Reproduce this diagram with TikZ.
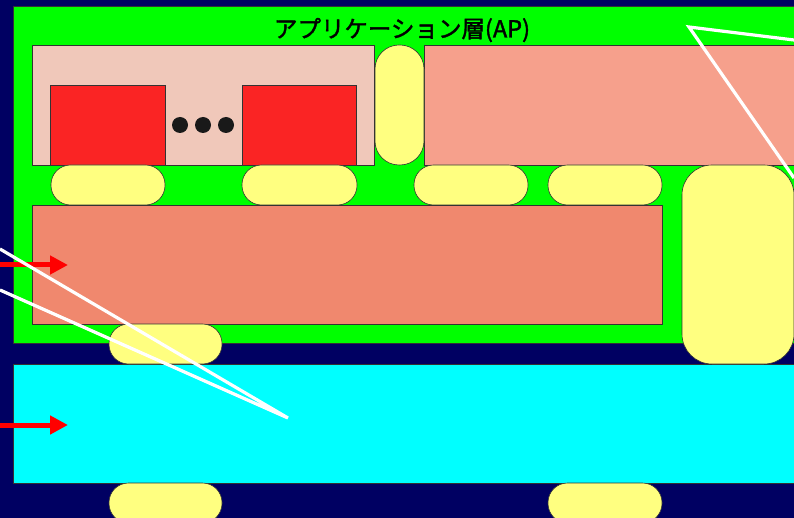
\documentclass[tikz,border=0pt]{standalone}
\usepackage{fontspec}
\newfontfamily\jpfont[FakeBold=1.6]{Noto Sans CJK JP}
\usetikzlibrary{arrows.meta}
\definecolor{navy}{RGB}{0,0,98}
\definecolor{lgreen}{RGB}{0,255,0}
\definecolor{lpink}{RGB}{240,200,186}
\definecolor{dred}{RGB}{250,36,36}
\definecolor{chk}{RGB}{246,160,140}
\definecolor{salm}{RGB}{240,136,110}
\definecolor{lyel}{RGB}{255,255,128}
\definecolor{lcyan}{RGB}{0,255,255}
\tikzset{
  box/.style={rectangle, draw=black!80, line width=0.6pt, inner sep=0pt, outer sep=0pt},
  pill/.style={box, fill=lyel, minimum width=114pt, minimum height=40pt, rounded corners=19.5pt},
  redarrow/.style={draw=red, line width=5pt, -{Triangle[length=18pt,width=18pt]}},
  callout/.style={draw=white, line width=3.2pt, line join=miter},
  dot/.style={circle, fill=black!90, minimum size=16pt, inner sep=0pt}
}
\begin{document}
\begin{tikzpicture}[x=1pt,y=-1pt]
\useasboundingbox (0,0) rectangle (794,518);
\begin{scope}
\clip (0,0) rectangle (794,518);
\fill[navy] (0,0) rectangle (794,518);
\node[box, fill=lgreen, minimum width=787pt, minimum height=337pt] (ap) at (406.5,174.5) {};
\node[box, fill=lcyan, minimum width=787pt, minimum height=119pt] (low) at (406.5,423.5) {};
\node[box, fill=lpink, minimum width=342pt, minimum height=120pt] (pk) at (203,105) {};
\node[box, fill=dred, minimum width=115pt, minimum height=80pt] (r1) at (107.5,125) {};
\node[box, fill=dred, minimum width=114pt, minimum height=80pt] (r2) at (299,125) {};
\node[dot] (d1) at (180,125) {};
\node[dot] (d2) at (203,125) {};
\node[dot] (d3) at (226,125) {};
\node[box, fill=chk, minimum width=376pt, minimum height=120pt] (ck) at (612,105) {};
\node[box, fill=lyel, minimum width=49pt, minimum height=120pt, rounded corners=24pt] (tp) at (399.5,105) {};
\node[box, fill=salm, minimum width=630pt, minimum height=119pt] (sm) at (347,264.5) {};
\node[pill] (p1) at (108,185) {};
\node[pill, minimum width=115pt] (p2) at (299.5,185) {};
\node[pill] (p3) at (471,185) {};
\node[pill] (p4) at (605,185) {};
\node[box, fill=lyel, minimum width=112pt, minimum height=199pt, rounded corners=30pt] (big) at (738,264.5) {};
\node[pill, minimum width=113pt] (p5) at (165.5,344) {};
\node[pill, minimum width=113pt] (p6) at (165.5,503) {};
\node[pill] (p7) at (605,503) {};
\coordinate (a1s) at (0,265);
\coordinate (a1e) at (68,265);
\coordinate (a2s) at (0,425);
\coordinate (a2e) at (68,425);
\draw[redarrow] (a1s) -- (a1e);
\draw[redarrow] (a2s) -- (a2e);
\coordinate (c1a) at (0,249);
\coordinate (c1t) at (288,418);
\coordinate (c1b) at (0,290);
\draw[callout] (c1a) -- (c1t) -- (c1b);
\coordinate (c2a) at (794,40);
\coordinate (c2t) at (689,27);
\coordinate (c2b) at (794,178);
\draw[callout] (c2a) -- (c2t) -- (c2b);
\node[font=\jpfont\fontsize{23.5}{28}\selectfont, inner sep=0pt] (title) at (402,30) {アプリケーション層(AP)};
\end{scope}
\end{tikzpicture}
\end{document}
